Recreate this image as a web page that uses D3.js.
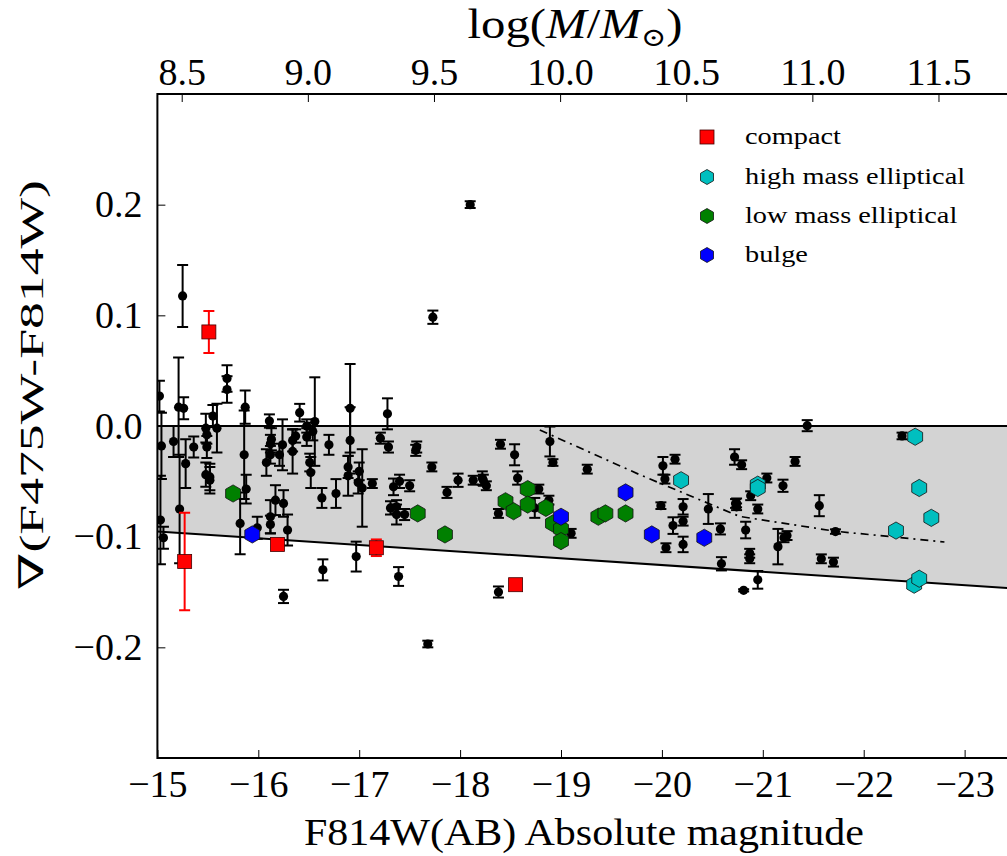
<!DOCTYPE html>
<html>
<head>
<meta charset="utf-8">
<script src="https://cdn.jsdelivr.net/npm/d3@7"></script>
<style>
  html, body { margin: 0; padding: 0; background: #fff; }
  svg { display: block; }
</style>
</head>
<body>
<svg id="chart" width="1007" height="856"></svg>
<script>
// Colour-gradient sample: absolute magnitude, gradient value and its error
const galaxyMag = [
  -15.25, -17.73, -18.10, -17.68, -15.02, -15.04, -15.03, -15.06, -15.21, -15.26,
  -15.16, -15.28, -15.22, -15.36, -15.48, -15.49, -15.49, -15.55, -15.59, -15.48,
  -15.52, -15.52, -15.69, -15.69, -15.87, -15.86, -15.82, -15.88, -15.99, -16.11,
  -16.13, -16.12, -16.12, -16.08, -16.24, -16.21, -16.17, -16.25, -16.12, -16.12,
  -16.29, -16.25, -16.34, -16.34, -16.37, -16.41, -16.48, -16.48, -16.54, -16.56,
  -16.51, -16.52, -16.63, -16.70, -16.77, -16.64, -16.91, -16.91, -16.89, -16.89,
  -17.00, -16.99, -17.03, -17.13, -16.97, -17.28, -17.21, -17.29, -17.34, -17.40,
  -17.50, -17.31, -17.37, -17.37, -17.45, -17.39, -17.57, -17.56, -17.72, -17.87,
  -17.98, -18.13, -18.22, -18.23, -18.26, -18.40, -18.54, -18.57, -18.38, -18.38,
  -18.78, -18.74, -18.88, -18.89, -18.92, -19.10, -19.26, -19.99, -20.01, -20.03,
  -20.13, -20.21, -20.21, -20.11, -20.04, -20.21, -20.46, -20.58, -20.59, -20.72,
  -20.73, -21.44, -20.79, -21.32, -21.04, -21.20, -20.88, -20.74, -20.74, -20.95,
  -21.56, -20.83, -21.24, -21.21, -21.15, -21.72, -20.87, -20.87, -21.58, -21.70,
  -20.95, -20.81, -22.38
];
const galaxyGrad = [
  0.1175, 0.0983, 0.200, -0.197, 0.027, -0.018, -0.085, -0.101, 0.017, 0.016,
  -0.014, -0.034, -0.075, -0.019, -0.002, -0.008, -0.019, 0.009, -0.002, -0.044,
  -0.046, -0.049, 0.043, 0.033, 0.017, -0.026, -0.088, -0.057, -0.092, 0.0045,
  -0.012, -0.016, -0.026, -0.033, -0.017, -0.026, -0.067, -0.070, -0.082, -0.089,
  -0.094, -0.154, -0.013, -0.023, -0.009, 0.012, 0.000, -0.010, -0.005, 0.004,
  -0.033, -0.042, -0.065, -0.017, -0.061, -0.130, 0.016, -0.013, -0.037, -0.045,
  -0.041, -0.051, -0.056, -0.052, -0.118, 0.011, -0.011, -0.019, -0.055, -0.050,
  -0.054, -0.074, -0.073, -0.080, -0.080, -0.136, -0.019, -0.022, -0.037, -0.060,
  -0.049, -0.049, -0.047, -0.049, -0.054, -0.0165, -0.026, -0.047, -0.079, -0.150,
  -0.057, -0.074, -0.067, -0.014, -0.033, -0.097, -0.039, -0.072, -0.036, -0.048,
  -0.030, -0.073, -0.086, -0.090, -0.110, -0.107, -0.075, -0.093, -0.1245, -0.028,
  -0.070, 0.0003, -0.035, -0.032, -0.047, -0.054, -0.063, -0.0695, -0.073, -0.075,
  -0.072, -0.094, -0.099, -0.101, -0.109, -0.0954, -0.115, -0.120, -0.120, -0.123,
  -0.139, -0.1485, -0.009
];
const galaxyErr = [
  0.028, 0.006, 0.003, 0.003, 0.014, 0.030, 0.040, 0.010, 0.045, 0.010,
  0.014, 0.022, 0.049, 0.0095, 0.013, 0.008, 0.010, 0.010, 0.022, 0.011,
  0.012, 0.012, 0.012, 0.012, 0.015, 0.040, 0.028, 0.013, 0.010, 0.006,
  0.010, 0.008, 0.008, 0.012, 0.023, 0.010, 0.0135, 0.012, 0.015, 0.008,
  0.014, 0.006, 0.010, 0.020, 0.006, 0.008, 0.006, 0.008, 0.008, 0.040,
  0.008, 0.014, 0.009, 0.009, 0.013, 0.0095, 0.040, 0.030, 0.010, 0.018,
  0.008, 0.010, 0.035, 0.004, 0.0135, 0.014, 0.005, 0.005, 0.0075, 0.006,
  0.005, 0.006, 0.006, 0.009, 0.005, 0.0085, 0.005, 0.005, 0.004, 0.005,
  0.006, 0.004, 0.006, 0.005, 0.004, 0.004, 0.0095, 0.006, 0.004, 0.005,
  0.004, 0.009, 0.004, 0.0135, 0.003, 0.004, 0.004, 0.003, 0.008, 0.004,
  0.004, 0.007, 0.004, 0.0075, 0.004, 0.007, 0.0135, 0.005, 0.006, 0.007,
  0.004, 0.005, 0.004, 0.004, 0.004, 0.0055, 0.004, 0.004, 0.003, 0.004,
  0.0095, 0.0075, 0.004, 0.004, 0.016, 0.002, 0.004, 0.004, 0.004, 0.004,
  0.008, 0.001, 0.003
];

// Compact galaxies
const compactMag  = [-15.51, -15.27, -16.19, -17.17, -18.55];
const compactGrad = [0.085, -0.1224, -0.107, -0.110, -0.1434];
const compactErr  = [0.019, 0.044, 0.004, 0.0075, 0.0];

// High mass ellipticals
const highMassMag  = [-20.19, -20.95, -20.95, -22.51, -22.55, -22.67, -22.32, -22.50, -22.55];
const highMassGrad = [-0.049, -0.053, -0.056, -0.0097, -0.056, -0.083, -0.0945, -0.1434, -0.138];

// Low mass ellipticals
const lowMassMag  = [-15.75, -17.58, -17.85, -18.45, -18.53, -18.67, -18.67, -18.85, -18.92, -19.00, -19.00, -19.37, -19.44, -19.64];
const lowMassGrad = [-0.061, -0.079, -0.098, -0.068, -0.077, -0.057, -0.071, -0.074, -0.088, -0.093, -0.104, -0.082, -0.079, -0.079];

// Bulges
const bulgeMag  = [-15.94, -19.00, -19.64, -19.90, -20.42];
const bulgeGrad = [-0.098, -0.082, -0.060, -0.098, -0.101];

// Lower envelope of the band (end points in magnitude / gradient)
const envelopeMag  = [-15.0, -23.43];
const envelopeGrad = [-0.0953, -0.1465];

// Model track (dash-dot)
const trackMag  = [-18.79, -19.78, -20.77, -21.71, -22.80];
const trackGrad = [-0.0036, -0.044, -0.0817, -0.0950, -0.1048];

// Tick values
const magTicks  = [-15, -16, -17, -18, -19, -20, -21, -22, -23];
const gradTicks = [-0.2, -0.1, 0.0, 0.1, 0.2];
const massTicks = [8.5, 9.0, 9.5, 10.0, 10.5, 11.0, 11.5];

const legendLabels = ["compact", "high mass elliptical", "low mass elliptical", "bulge"];
const legendColors = ["#ff0000", "#00bfbf", "#008000", "#0000ff"];

(function () {
  const FONT = "'Liberation Serif', 'Times New Roman', Times, 'Noto Serif', 'DejaVu Serif', serif";
  // ---- layout ----
  const W = 1007, H = 856;
  const pL = 157.4, pR = 1008, pT = 94, pB = 758;

  const x = d3.scaleLinear().domain([-15, -23.43]).range([pL, pR]);
  const y = d3.scaleLinear().domain([-0.3, 0.3]).range([pB, pT]);
  // stellar mass from magnitude (constant M/L): log M = 2.4036 - 0.4 Mag
  const toMass = m => 2.4036 - 0.4 * m;
  const xm = d3.scaleLinear().domain([toMass(-15), toMass(-23.43)]).range([pL, pR]);

  const svg = d3.select("#chart");
  svg.append("rect").attr("width", W).attr("height", H).attr("fill", "#fff");

  svg.append("defs").append("clipPath").attr("id", "plotclip")
    .append("rect").attr("x", pL).attr("y", pT)
    .attr("width", pR - pL).attr("height", pB - pT);

  const plot = svg.append("g").attr("clip-path", "url(#plotclip)");

  // shaded band between zero and lower envelope
  const band = d3.area()
    .x(d => x(d[0]))
    .y0(() => y(0))
    .y1(d => y(d[1]));
  const envPts = envelopeMag.map((m, i) => [m, envelopeGrad[i]]);
  plot.append("path").datum(envPts).attr("d", band).attr("fill", "#d3d3d3");

  const line = d3.line().x(d => x(d[0])).y(d => y(d[1]));
  plot.append("path").datum([[-15, 0], [-23.43, 0]]).attr("d", line)
    .attr("fill", "none").attr("stroke", "#000").attr("stroke-width", 2);
  plot.append("path").datum(envPts).attr("d", line)
    .attr("fill", "none").attr("stroke", "#000").attr("stroke-width", 2);
  plot.append("path").datum(trackMag.map((m, i) => [m, trackGrad[i]])).attr("d", line)
    .attr("fill", "none").attr("stroke", "#000").attr("stroke-width", 1.7)
    .attr("stroke-dasharray", "8,5,2,5");

  // error bars
  function errorBars(mags, grads, errs, color) {
    const g = plot.append("g").attr("stroke", color).attr("stroke-width", 2).attr("fill", "none");
    mags.forEach((m, i) => {
      const e = errs[i];
      if (!e) return;
      const cx = x(m), y1 = y(grads[i] + e), y2 = y(grads[i] - e);
      g.append("line").attr("x1", cx).attr("x2", cx).attr("y1", y1).attr("y2", y2);
      g.append("line").attr("x1", cx - 5.5).attr("x2", cx + 5.5).attr("y1", y1).attr("y2", y1);
      g.append("line").attr("x1", cx - 5.5).attr("x2", cx + 5.5).attr("y1", y2).attr("y2", y2);
    });
  }

  errorBars(galaxyMag, galaxyGrad, galaxyErr, "#000");
  plot.append("g").selectAll("circle").data(galaxyMag).join("circle")
    .attr("cx", d => x(d)).attr("cy", (d, i) => y(galaxyGrad[i]))
    .attr("r", 4.6).attr("fill", "#000");

  // hexagon (pointy top)
  function hexPath(r) {
    const pts = d3.range(6).map(k => {
      const a = (-90 + 60 * k) * Math.PI / 180;
      return [r * Math.cos(a), r * Math.sin(a)];
    });
    return "M" + pts.map(p => p.join(",")).join("L") + "Z";
  }

  errorBars(compactMag, compactGrad, compactErr, "#ff0000");
  plot.append("g").selectAll("rect").data(compactMag).join("rect")
    .attr("x", d => x(d) - 7).attr("y", (d, i) => y(compactGrad[i]) - 7)
    .attr("width", 14).attr("height", 14)
    .attr("fill", "#ff0000").attr("stroke", "#400").attr("stroke-width", 0.8);

  function hexes(mags, grads, color) {
    plot.append("g").selectAll("path").data(mags).join("path")
      .attr("d", hexPath(8.6))
      .attr("transform", (d, i) => `translate(${x(d)},${y(grads[i])})`)
      .attr("fill", color).attr("stroke", "#111").attr("stroke-width", 0.8);
  }
  hexes(lowMassMag, lowMassGrad, "#008000");
  hexes(highMassMag, highMassGrad, "#00bfbf");
  hexes(bulgeMag, bulgeGrad, "#0000ff");

  // ---- axes ----
  const bottomAxis = d3.axisBottom(x).tickValues(magTicks).tickSize(-8).tickPadding(12)
    .tickFormat(d3.format("d"));
  const leftAxis = d3.axisLeft(y).tickValues(gradTicks).tickSize(-8).tickPadding(15)
    .tickFormat(d3.format(".1f"));
  const topAxis = d3.axisTop(xm).tickValues(massTicks).tickSize(-8).tickPadding(9)
    .tickFormat(d3.format(".1f"));

  function styleAxis(g) {
    g.attr("font-family", null).attr("font-size", null);
    g.select(".domain").remove();
    g.selectAll(".tick line").attr("stroke", "#000").attr("stroke-width", 1);
    g.selectAll(".tick text").style("font-family", FONT)
      .style("font-size", "38px").attr("fill", "#000");
  }
  svg.append("g").attr("transform", `translate(0,${pB})`).call(bottomAxis).call(styleAxis);
  svg.append("g").attr("transform", `translate(${pL},0)`).call(leftAxis).call(styleAxis);
  svg.append("g").attr("transform", `translate(0,${pT})`).call(topAxis).call(styleAxis);

  // frame
  svg.append("rect").attr("x", pL).attr("y", pT)
    .attr("width", pR - pL).attr("height", pB - pT)
    .attr("fill", "none").attr("stroke", "#000").attr("stroke-width", 2);

  // ---- axis titles ----
  svg.append("text").attr("x", 584).attr("y", 845).attr("text-anchor", "middle")
    .style("font-family", FONT).style("font-size", "38px")
    .attr("textLength", 560).attr("lengthAdjust", "spacingAndGlyphs")
    .text("F814W(AB) Absolute magnitude");

  svg.append("text").attr("transform", "translate(43,385) rotate(-90)")
    .attr("text-anchor", "middle")
    .style("font-family", FONT).style("font-size", "34px")
    .attr("textLength", 410).attr("lengthAdjust", "spacingAndGlyphs")
    .text("∇(F475W-F814W)");

  const tl = svg.append("text").attr("x", 575).attr("y", 38).attr("text-anchor", "middle")
    .style("font-family", FONT).style("font-size", "42px")
    .attr("textLength", 215).attr("lengthAdjust", "spacingAndGlyphs");
  tl.append("tspan").text("log(");
  tl.append("tspan").style("font-style", "italic").text("M");
  tl.append("tspan").text("/");
  tl.append("tspan").style("font-style", "italic").text("M");
  tl.append("tspan").style("font-size", "26px").attr("dy", 8).text("⊙");
  tl.append("tspan").attr("dy", -8).text(")");

  // ---- legend ----
  const legY = [137, 177, 216, 255];
  const leg = svg.append("g");
  legendLabels.forEach((lab, i) => {
    if (i === 0) {
      leg.append("rect").attr("x", 700).attr("y", legY[i] - 7).attr("width", 14).attr("height", 14)
        .attr("fill", legendColors[i]).attr("stroke", "#400").attr("stroke-width", 0.8);
    } else {
      leg.append("path").attr("d", hexPath(7.5))
        .attr("transform", `translate(707,${legY[i]})`)
        .attr("fill", legendColors[i]).attr("stroke", "#111").attr("stroke-width", 0.8);
    }
    leg.append("text").attr("transform", `translate(745,${legY[i] + 7}) scale(1.18,1)`)
      .style("font-family", FONT).style("font-size", "24px").text(lab);
  });
})();
</script>
</body>
</html>
